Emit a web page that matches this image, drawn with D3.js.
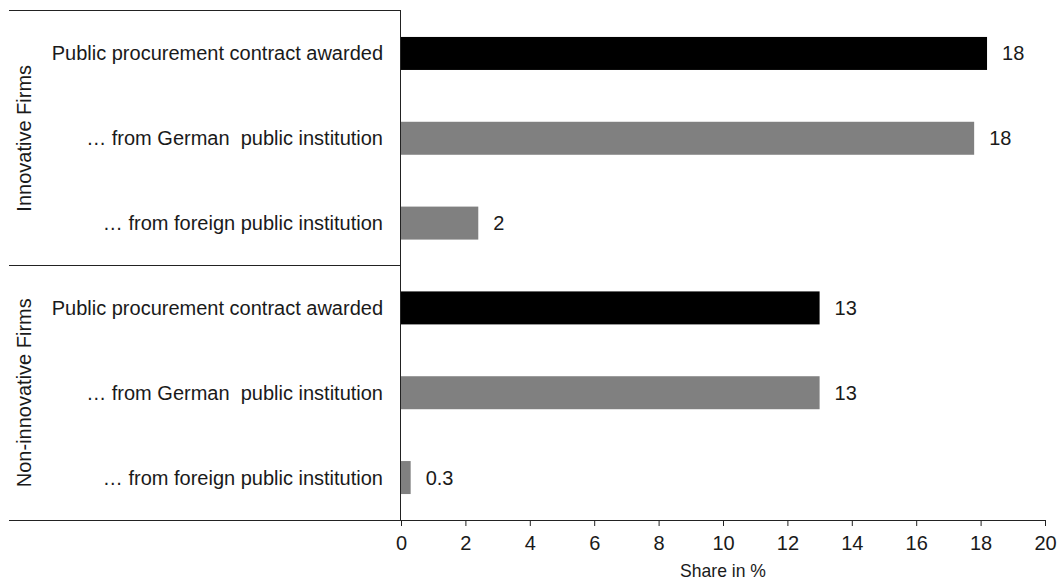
<!DOCTYPE html>
<html><head><meta charset="utf-8">
<script src="https://cdn.jsdelivr.net/npm/d3@7"></script>
<style>body{margin:0;background:#fff}svg{display:block}text{font-family:"Liberation Sans",Arial,sans-serif;fill:#1a1a1a}</style>
</head><body>
<script>
const categories = ["Public procurement contract awarded","… from German  public institution","… from foreign public institution","Public procurement contract awarded","… from German  public institution","… from foreign public institution"];
const groups = ["Innovative Firms","Non-innovative Firms"];
const values = [18.2, 17.8, 2.4, 13.0, 13.0, 0.3];
const valueLabels = ["18","18","2","13","13","0.3"];
const barKinds = ["total","sub","sub","total","sub","sub"];
const xTicks = [0,2,4,6,8,10,12,14,16,18,20];

const W=1058,H=582,FS=20;
const svg=d3.select("body").append("svg").attr("width",W).attr("height",H);
const x=d3.scaleLinear().domain([0,20]).range([401,1045]);
const ids=categories.map((c,i)=>i);
const y=d3.scaleBand().domain(ids).range([11,520]).paddingInner(0.611).paddingOuter(0.306);
const color={total:"#000000",sub:"#808080"};

svg.selectAll("rect.bar").data(values).join("rect").attr("class","bar")
 .attr("x",x(0)).attr("y",(d,i)=>y(i)).attr("width",d=>x(d)-x(0)).attr("height",y.bandwidth())
 .attr("fill",(d,i)=>color[barKinds[i]]);

svg.selectAll("text.val").data(values).join("text").attr("class","val")
 .attr("x",d=>x(d)+15).attr("y",(d,i)=>y(i)+y.bandwidth()/2).attr("dy","0.35em")
 .attr("font-size",FS).text((d,i)=>valueLabels[i]);

svg.selectAll("text.cat").data(categories).join("text").attr("class","cat")
 .attr("x",383).attr("y",(d,i)=>y(i)+y.bandwidth()/2).attr("dy","0.35em")
 .attr("text-anchor","end").attr("font-size",FS).style("white-space","pre").text(d=>d);

const line=(x1,y1,x2,y2)=>svg.append("line").attr("x1",x1).attr("y1",y1).attr("x2",x2).attr("y2",y2).attr("stroke","#222").attr("stroke-width",1);
line(9,10.5,401,10.5);
line(9,265.5,401,265.5);
line(400.5,10,400.5,520);

const ax=svg.append("g").attr("transform","translate(0,520)")
 .call(d3.axisBottom(x).tickValues(xTicks).tickSize(6).tickPadding(10).tickSizeOuter(0));
ax.select(".domain").remove();
ax.selectAll("line").attr("stroke","#222");
ax.selectAll("text").attr("font-size",FS).attr("fill","#1a1a1a").style("font-family","'Liberation Sans',Arial,sans-serif");
line(9,520.5,1045,520.5);

svg.append("text").attr("x",x(10)).attr("y",577).attr("text-anchor","middle").attr("font-size",19)
 .attr("textLength",86).attr("lengthAdjust","spacingAndGlyphs").text("Share in %");

const gc=[(y(0)+y(2)+y.bandwidth())/2,(y(3)+y(5)+y.bandwidth())/2];
svg.selectAll("text.grp").data(groups).join("text").attr("class","grp")
 .attr("transform",(d,i)=>`translate(31,${gc[i]}) rotate(-90)`).attr("text-anchor","middle")
 .attr("font-size",FS).text(d=>d);
</script>
</body></html>
